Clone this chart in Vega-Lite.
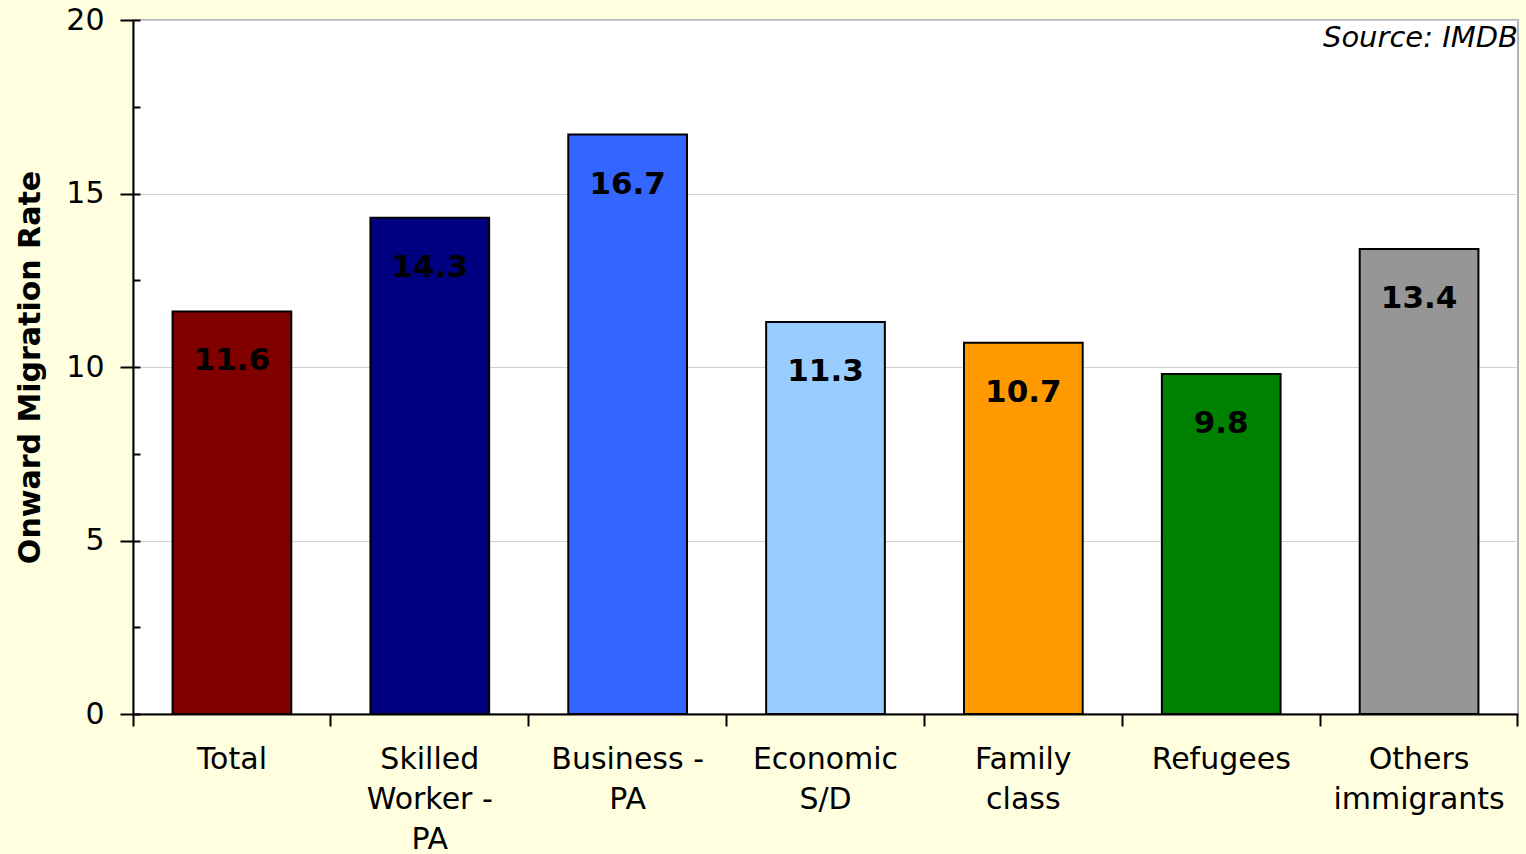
{
  "$schema": "https://vega.github.io/schema/vega-lite/v6.json",
  "width": 1385,
  "height": 694,
  "autosize": {"type": "none"},
  "padding": {"left": 133, "top": 20, "right": 8, "bottom": 140},
  "background": "#FFFFE0",
  "config": {
    "view": {"stroke": "#B4B4B4", "strokeWidth": 2, "fill": "white"},
    "font": "DejaVu Sans"
  },
  "title": {
    "text": "Source: IMDB",
    "anchor": "end",
    "orient": "top",
    "offset": -48,
    "fontSize": 29,
    "fontStyle": "italic",
    "fontWeight": "normal",
    "font": "DejaVu Sans",
    "color": "black"
  },
  "data": {
    "values": [
      {"category": "Total", "rate": 11.6},
      {"category": "Skilled Worker - PA", "rate": 14.3},
      {"category": "Business - PA", "rate": 16.7},
      {"category": "Economic S/D", "rate": 11.3},
      {"category": "Family class", "rate": 10.7},
      {"category": "Refugees", "rate": 9.8},
      {"category": "Others immigrants", "rate": 13.4}
    ]
  },
  "layer": [
    {
      "mark": {"type": "bar", "stroke": "black", "strokeWidth": 2},
      "encoding": {
        "x": {
          "field": "category",
          "type": "nominal",
          "sort": null,
          "scale": {"paddingInner": 0.4, "paddingOuter": 0.2},
          "axis": {
            "title": null,
            "labelAngle": 0,
            "labelFontSize": 30,
            "labelLineHeight": 40,
            "labelColor": "black",
            "labelPadding": 18,
            "labelBaseline": "top",
            "bandPosition": -0.3333,
            "tickColor": "black",
            "tickWidth": 2,
            "tickSize": 12,
            "domainColor": "black",
            "domainWidth": 2,
            "labelExpr": "datum.label == 'Skilled Worker - PA' ? ['Skilled', 'Worker -', 'PA'] : datum.label == 'Business - PA' ? ['Business -', 'PA'] : datum.label == 'Economic S/D' ? ['Economic', 'S/D'] : datum.label == 'Family class' ? ['Family', 'class'] : datum.label == 'Others immigrants' ? ['Others', 'immigrants'] : datum.label"
          }
        },
        "y": {
          "field": "rate",
          "type": "quantitative",
          "scale": {"domain": [0, 20], "nice": false},
          "axis": {
            "title": "Onward Migration Rate",
            "titleFontSize": 30,
            "titleFontWeight": "bold",
            "titleColor": "black",
            "titlePadding": 20,
            "values": [0, 5, 10, 15, 20],
            "labelFontSize": 30,
            "labelColor": "black",
            "labelPadding": 16,
            "tickColor": "black",
            "tickWidth": 2,
            "tickSize": 13,
            "domainColor": "black",
            "domainWidth": 2,
            "gridColor": "#D0D0D0",
            "gridWidth": 1
          }
        },
        "color": {
          "field": "category",
          "type": "nominal",
          "sort": null,
          "scale": {
            "domain": ["Total", "Skilled Worker - PA", "Business - PA", "Economic S/D", "Family class", "Refugees", "Others immigrants"],
            "range": ["#800000", "#000080", "#3366FF", "#99CCFF", "#FF9900", "#008000", "#969696"]
          },
          "legend": null
        }
      }
    },
    {
      "mark": {"type": "text", "dy": 50, "fontSize": 31, "fontWeight": "bold", "color": "black", "baseline": "middle", "align": "center"},
      "encoding": {
        "x": {
          "field": "category",
          "type": "nominal",
          "sort": null,
          "axis": {
            "orient": "bottom",
            "title": null,
            "values": ["Others immigrants"],
            "bandPosition": 1.3333,
            "labels": false,
            "domain": false,
            "grid": false,
            "tickColor": "black",
            "tickWidth": 2,
            "tickSize": 12
          }
        },
        "y": {
          "field": "rate",
          "type": "quantitative",
          "axis": {
            "orient": "left",
            "title": null,
            "values": [0, 2.5, 5, 7.5, 10, 12.5, 15, 17.5, 20],
            "labels": false,
            "domain": false,
            "grid": false,
            "tickColor": "black",
            "tickWidth": 2,
            "tickSize": -7
          }
        },
        "text": {"field": "rate", "type": "quantitative", "format": ".1f"}
      }
    }
  ],
  "resolve": {"axis": {"y": "independent", "x": "independent"}}
}
